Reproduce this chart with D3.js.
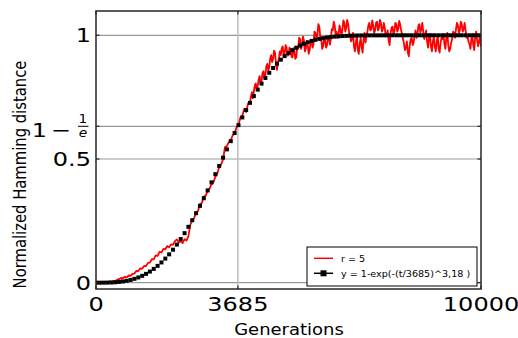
<!DOCTYPE html>
<html>
<head>
<meta charset="utf-8">
<script src="https://cdn.jsdelivr.net/npm/d3@7/dist/d3.min.js"></script>
<style>
  html, body { margin: 0; padding: 0; background: #fff; }
  svg { display: block; font-family: "DejaVu Sans", sans-serif; }
</style>
</head>
<body>
<svg id="chart" width="518" height="338"></svg>
<script>
// ---------------- data ----------------
const xTicks = [0, 3685, 10000];
const xTickLabels = ["0", "3685", "10000"];
const yTicks = [0, 0.5, 1 - 1 / Math.E, 1];
const yTickLabels = ["0", "0.5", "1-1/e", "1"];
const xLabel = "Generations";
const yLabel = "Normalized Hamming distance";
const legendLabels = ["r = 5", "y = 1-exp(-(t/3685)^3,18 )"];

// red series, part 1: every 50 generations (0..3950)
const redLowStep = 50;
const redLowValues = [
  0.000,0.002,0.001,0.003,0.001,0.004,0.002,0.005,0.003,0.007,0.006,0.012,0.014,0.019,0.018,0.024,0.022,0.029,0.028,0.036,
  0.037,0.048,0.047,0.058,0.056,0.068,0.067,0.080,0.081,0.095,0.094,0.110,0.108,0.125,0.122,0.137,0.135,0.148,0.143,0.155,
  0.153,0.168,0.175,0.162,0.168,0.160,0.176,0.170,0.188,0.235,0.250,0.262,0.282,0.290,0.318,0.322,0.348,0.352,0.372,0.380,
  0.398,0.405,0.428,0.440,0.468,0.478,0.498,0.548,0.552,0.568,0.575,0.596,0.602,0.628,0.636,0.668,0.675,0.702,0.690,0.725
];
// red series, part 2: every 25 generations (4000..10000)
const redHighStart = 4000;
const redHighStep = 25;
const redHighValues = [
  0.728,0.752,0.770,0.745,0.772,0.798,0.805,0.780,0.795,0.822,0.835,0.805,0.815,0.848,0.855,0.830,0.840,0.875,0.885,0.858,
  0.870,0.905,0.920,0.892,0.905,0.938,0.930,0.885,0.860,0.890,0.905,0.935,0.920,0.948,0.955,0.915,0.925,0.960,0.950,0.918,
  0.920,0.950,0.945,0.915,0.910,0.948,0.940,0.905,0.910,0.950,0.945,0.990,0.985,0.945,0.960,0.995,0.980,0.935,0.945,0.975,
  0.960,0.925,0.940,0.975,0.980,0.950,0.965,1.015,1.010,0.985,1.000,1.045,1.035,0.995,0.985,0.945,0.955,0.990,0.980,0.950,
  0.960,0.995,0.990,0.962,0.985,1.025,1.020,1.055,1.040,1.000,1.015,0.990,1.000,1.040,1.025,0.995,1.020,1.060,1.050,1.015,
  1.030,1.062,1.045,1.010,1.000,0.975,0.985,1.010,0.955,0.935,0.970,1.000,0.940,0.925,0.965,0.990,0.950,0.930,0.985,1.010,
  0.970,0.995,1.015,1.040,1.050,1.020,1.025,1.060,1.040,1.010,1.020,1.050,1.055,1.020,1.030,1.062,1.050,1.015,1.025,1.050,
  1.030,0.995,1.000,1.020,0.980,0.960,1.005,1.030,1.035,1.005,1.015,1.050,1.045,1.015,1.025,1.058,1.045,1.020,1.005,0.985,
  0.965,0.940,0.950,0.975,0.930,0.915,0.960,0.985,0.990,0.960,0.970,1.000,1.020,0.990,1.005,1.040,1.045,1.010,1.025,1.050,
  1.015,0.985,1.000,1.020,0.975,0.950,0.990,1.005,0.955,0.935,0.975,0.995,0.955,0.935,0.975,0.998,0.945,0.930,0.970,0.990,
  0.985,1.005,0.965,0.945,0.990,1.010,0.960,0.935,0.945,0.970,0.985,1.015,1.010,0.990,1.025,1.050,1.040,1.010,1.020,1.055,
  1.045,1.015,1.025,1.050,1.020,0.990,0.995,0.975,0.965,0.945,0.985,1.005,0.960,0.940,0.995,1.015,0.980,0.955,0.975,1.000,
  0.955
];

// fitted series (square markers): every 100 generations (0..10000)
const fitStep = 100;
const fitValues = [
  0,0.00001,0.0001,0.0003,0.0009,0.0017,0.0031,0.0051,0.0077,0.0112,
  0.0157,0.0212,0.0278,0.0357,0.0450,0.0558,0.0680,0.0819,0.0974,0.1146,
  0.1334,0.1540,0.1763,0.2002,0.2257,0.2526,0.2810,0.3106,0.3414,0.3730,
  0.4055,0.4385,0.4719,0.5054,0.5389,0.5721,0.6049,0.6369,0.6680,0.6981,
  0.7269,0.7544,0.7804,0.8048,0.8276,0.8486,0.8679,0.8855,0.9015,0.9158,
  0.9286,0.9398,0.9497,0.9583,0.9656,0.9719,0.9773,0.9818,0.9855,0.9885,
  0.9910,0.9930,0.9947,0.9959,0.9969,0.9977,0.9983,0.9988,0.9991,0.9994,
  0.9996,0.9997,0.9998,0.9998,0.9999,0.9999,1,1,1,1,
  1,1,1,1,1,1,1,1,1,1,
  1,1,1,1,1,1,1,1,1,1,
  1
];

// ---------------- layout ----------------
const plot = { left: 96, right: 481, top: 11, bottom: 289 };
const SX = 1.2; // horizontal text stretch seen in the reference

const svg = d3.select("#chart");
const x = d3.scaleLinear().domain([0, 10000]).range([plot.left, plot.right]);
const y = d3.scaleLinear().domain([-0.0255, 1.0982]).range([plot.bottom, plot.top]);

function stretchedText(parent, px, py, str, size, anchor, opts = {}) {
  const g = parent.append("g").attr("transform", `translate(${px},${py}) scale(${SX},1)`);
  const t = g.append("text").attr("x", 0).attr("y", 0)
    .attr("font-size", size).attr("text-anchor", anchor).attr("fill", "#000").text(str);
  if (opts.italic) t.attr("font-style", "italic");
  return t;
}

// clip
svg.append("defs").append("clipPath").attr("id", "clip")
  .append("rect").attr("x", plot.left).attr("y", plot.top)
  .attr("width", plot.right - plot.left).attr("height", plot.bottom - plot.top);

// grid lines
const grid = svg.append("g");
const gridStyle = v => (Math.abs(v - 0.5) < 1e-9) ? { c: "#bdbdbd", w: 1.5 } : { c: "#7f7f7f", w: 1 };
yTicks.forEach(v => {
  const s = gridStyle(v);
  grid.append("line").attr("x1", plot.left).attr("x2", plot.right)
    .attr("y1", y(v)).attr("y2", y(v)).attr("stroke", s.c).attr("stroke-width", s.w);
});
xTicks.slice(1, 2).forEach(v => {
  grid.append("line").attr("x1", x(v)).attr("x2", x(v))
    .attr("y1", plot.top).attr("y2", plot.bottom).attr("stroke", "#bdbdbd").attr("stroke-width", 1.5);
});

// data
const dataG = svg.append("g").attr("clip-path", "url(#clip)");
const redData = redLowValues.map((v, i) => [i * redLowStep, v])
  .concat(redHighValues.map((v, i) => [redHighStart + i * redHighStep, v]));
const fitData = fitValues.map((v, i) => [i * fitStep, v]);
const line = d3.line().x(d => x(d[0])).y(d => y(d[1]));

dataG.append("path").datum(redData).attr("d", line)
  .attr("fill", "none").attr("stroke", "#ff0000").attr("stroke-width", 1.8).attr("stroke-linejoin", "round");

const ms = 4;
dataG.selectAll("rect.m").data(fitData).enter().append("rect").attr("class", "m")
  .attr("x", d => x(d[0]) - ms / 2).attr("y", d => y(d[1]) - ms / 2)
  .attr("width", ms).attr("height", ms).attr("fill", "#000");

// frame
svg.append("rect").attr("x", plot.left).attr("y", plot.top)
  .attr("width", plot.right - plot.left).attr("height", plot.bottom - plot.top)
  .attr("fill", "none").attr("stroke", "#262626").attr("stroke-width", 1.5);

// inward ticks
const tk = svg.append("g").attr("stroke", "#262626").attr("stroke-width", 1.2);
yTicks.forEach(v => {
  tk.append("line").attr("x1", plot.left).attr("x2", plot.left + 3.5).attr("y1", y(v)).attr("y2", y(v));
  tk.append("line").attr("x1", plot.right).attr("x2", plot.right - 3.5).attr("y1", y(v)).attr("y2", y(v));
});
xTicks.forEach(v => {
  tk.append("line").attr("x1", x(v)).attr("x2", x(v)).attr("y1", plot.bottom).attr("y2", plot.bottom - 3.5);
  tk.append("line").attr("x1", x(v)).attr("x2", x(v)).attr("y1", plot.top).attr("y2", plot.top + 3.5);
});

// tick labels
const labels = svg.append("g");
xTicks.forEach((v, i) => stretchedText(labels, x(v), 311, xTickLabels[i], 20, "middle"));
yTicks.forEach((v, i) => {
  const yy = y(v);
  if (yTickLabels[i] === "1-1/e") {
    stretchedText(labels, 47, yy + 10.5, "1", 20, "end");
    stretchedText(labels, 61, yy + 10.5, "\u2212", 20, "middle");
    stretchedText(labels, 83, yy - 3.3, "1", 11.5, "middle");
    labels.append("line").attr("x1", 78).attr("x2", 88.5).attr("y1", yy).attr("y2", yy)
      .attr("stroke", "#000").attr("stroke-width", 1);
    stretchedText(labels, 83, yy + 10.3, "e", 11.5, "middle", { italic: true });
  } else {
    stretchedText(labels, 91, yy + 7, yTickLabels[i], 20, "end");
  }
});

// axis titles
stretchedText(svg, 289, 334.5, xLabel, 15, "middle");
svg.append("g").attr("transform", `translate(26,174.5) rotate(-90) scale(1,1.15)`)
  .append("text").attr("x", 0).attr("y", 0)
  .attr("text-anchor", "middle").attr("font-size", 14.8).attr("fill", "#000").text(yLabel);

// legend
const lg = svg.append("g");
lg.append("rect").attr("x", 307).attr("y", 247).attr("width", 170).attr("height", 39)
  .attr("fill", "#fff").attr("stroke", "#000").attr("stroke-width", 1);
lg.append("line").attr("x1", 314).attr("x2", 333).attr("y1", 258.3).attr("y2", 258.3)
  .attr("stroke", "#ff0000").attr("stroke-width", 1.5);
stretchedText(lg, 341, 261.5, legendLabels[0], 8, "start");
lg.append("line").attr("x1", 314).attr("x2", 333).attr("y1", 273.3).attr("y2", 273.3)
  .attr("stroke", "#000").attr("stroke-width", 1.5);
lg.append("rect").attr("x", 323.5 - 3).attr("y", 273.3 - 3).attr("width", 6).attr("height", 6).attr("fill", "#000");
stretchedText(lg, 341, 276.5, legendLabels[1], 8, "start");
</script>
</body>
</html>
